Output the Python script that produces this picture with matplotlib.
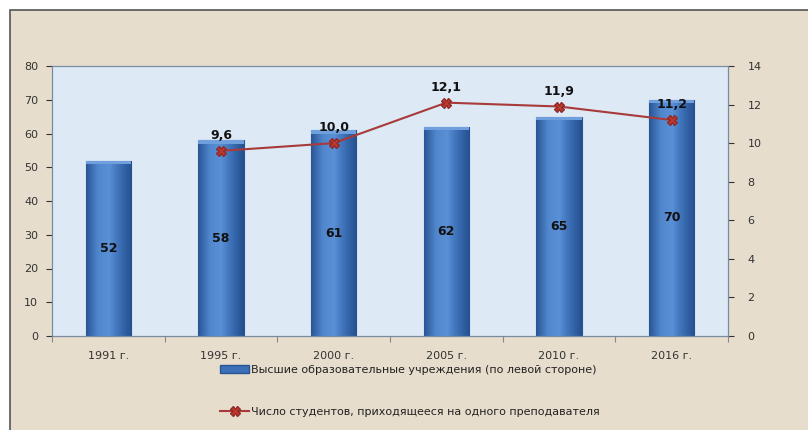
import matplotlib
matplotlib.use("Agg")
import matplotlib.pyplot as plt
import numpy as np
from matplotlib.patches import Rectangle
from matplotlib.lines import Line2D
from matplotlib.colors import LinearSegmentedColormap

years = ["1991 г.", "1995 г.", "2000 г.", "2005 г.", "2010 г.", "2016 г."]
institutions = [52, 58, 61, 62, 65, 70]
students_per_teacher = [None, 9.6, 10.0, 12.1, 11.9, 11.2]
student_labels = ["", "9,6", "10,0", "12,1", "11,9", "11,2"]
left_ticks = [0, 10, 20, 30, 40, 50, 60, 70, 80]
right_ticks = [0, 2, 4, 6, 8, 10, 12, 14]
legend_bar = "Высшие образовательные учреждения (по левой стороне)"
legend_line = "Число студентов, приходящееся на одного преподавателя"

W, H = 808, 430
fig = plt.figure(figsize=(W / 100, H / 100), dpi=100)
fig.patch.set_facecolor("white")
bg = Rectangle((10 / W, -0.05), 1.1, 1.05 - 10 / H, transform=fig.transFigure,
               facecolor="#e6ddcd", edgecolor="#555555", linewidth=1.2, zorder=-10)
fig.patches.append(bg)

ax = fig.add_axes([52 / W, (H - 336) / H, (728 - 52) / W, (336 - 66) / H])
ax.set_facecolor("#dde9f5")
x = np.arange(len(years))
bw = 0.4
bars = ax.bar(x, institutions, width=bw, color="#3b6fb6", edgecolor="#2a5595",
              linewidth=0.8, zorder=2)
cmap = LinearSegmentedColormap.from_list("b", ["#2a5596", "#4f86cc", "#5a90d6", "#3a6db3", "#24508f"])
grad = np.linspace(0, 1, 64).reshape(1, -1)
for b in bars:
    x0, w, h = b.get_x(), b.get_width(), b.get_height()
    im = ax.imshow(grad, cmap=cmap, aspect="auto", extent=[x0, x0 + w, 0, h], zorder=2.1)
    im.set_clip_path(b)
    ax.add_patch(Rectangle((x0, h - 1.0), w, 1.0, facecolor="#6f9fdc", edgecolor="none", zorder=2.2))
    ax.text(x0 + w / 2, h / 2, f"{h:g}", ha="center", va="center", fontsize=9,
            fontweight="bold", color="#111111", zorder=5)

ax.set_xlim(-0.5, len(years) - 0.5)
ax.set_ylim(0, 80)
ax.set_yticks(left_ticks)
ax.set_xticks(x)
ax.set_xticklabels(years)
ax.tick_params(axis="y", labelsize=8, colors="#333333", length=4, width=0.8, pad=6)
ax.tick_params(axis="x", labelsize=8, colors="#333333", length=0, pad=11)
ax.set_xticks(np.arange(-0.5, len(years)), minor=True)
ax.tick_params(axis="x", which="minor", length=4, width=0.8, color="#888888", direction="out")
for s in ["left", "bottom", "top", "right"]:
    ax.spines[s].set_color("#7a8aa0")

ax2 = ax.twinx()
ax2.set_ylim(0, 14)
ax2.set_yticks(right_ticks)
ax2.tick_params(axis="y", labelsize=8, colors="#333333", length=4, width=0.8, pad=10)
for s in ["left", "bottom", "top", "right"]:
    ax2.spines[s].set_color("#7a8aa0")
xl = [xi for xi, v in zip(x, students_per_teacher) if v is not None]
yl = [v for v in students_per_teacher if v is not None]
ax2.plot(xl, yl, color="#a83a3a", linewidth=1.5, marker="X", markersize=7,
         markerfacecolor="#c0392b", markeredgecolor="#8e2a2a", zorder=4)
for xi, v, lab in zip(x, students_per_teacher, student_labels):
    if v is not None:
        ax2.text(xi, v + 0.45, lab, ha="center", va="bottom", fontsize=9,
                 fontweight="bold", color="#111111", zorder=6)

handles = [Rectangle((0, 0), 1, 1, facecolor="#3b6fb6", edgecolor="#2a5595"),
           Line2D([0], [0], color="#a83a3a", linewidth=1.5, marker="X", markersize=7,
                  markerfacecolor="#c0392b", markeredgecolor="#8e2a2a")]
fig.legend(handles, [legend_bar, legend_line], loc="center", bbox_to_anchor=(410 / W, 1 - 391 / H),
           ncol=1, frameon=False, fontsize=8, handlelength=2.6, handletextpad=0.2,
           labelspacing=2.9, labelcolor="#222222")

fig.savefig("out.png", dpi=100, facecolor=fig.get_facecolor())
